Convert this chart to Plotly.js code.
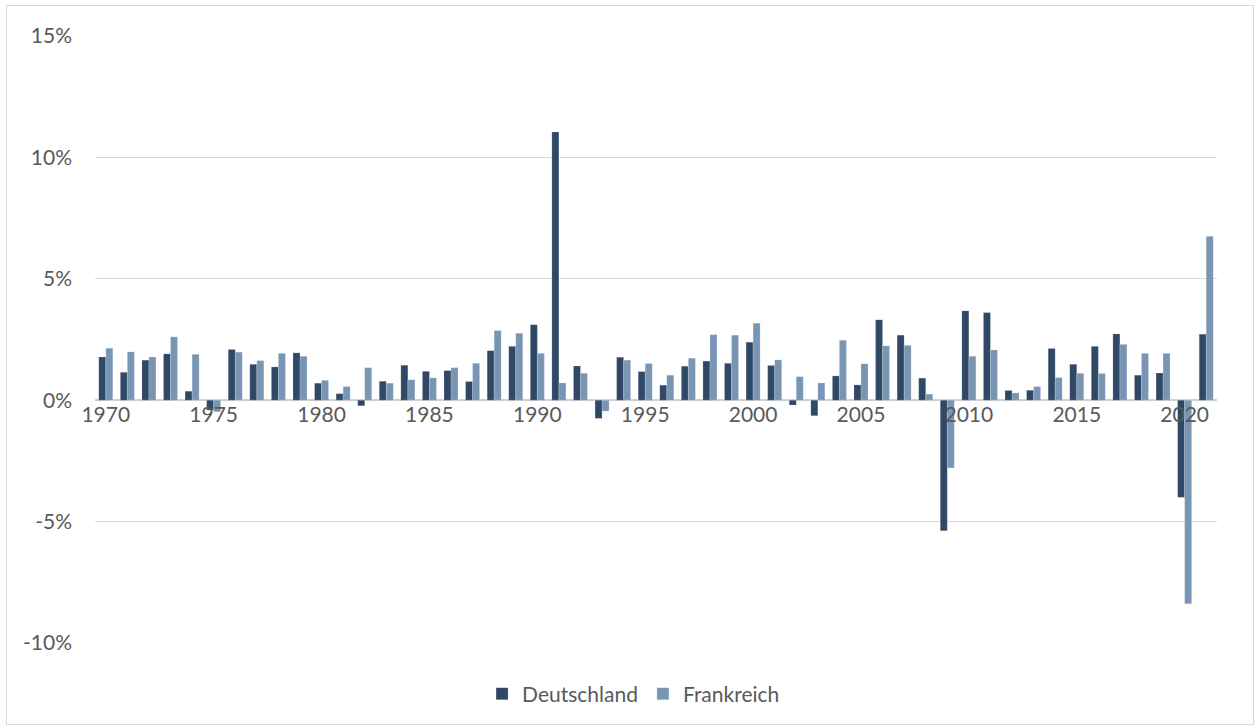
<!DOCTYPE html>
<html>
<head>
<meta charset="utf-8">
<script src="https://cdn.plot.ly/plotly-3.0.1.min.js"></script>
<style>
  html, body { margin: 0; padding: 0; background: #fff; }
  #wrap { position: relative; width: 1258px; height: 727px; }
  #chart { width: 1258px; height: 727px; }
  #frame { position: absolute; left: 6px; top: 5px; width: 1246px; height: 718px;
           border: 1px solid #d9d9d9; pointer-events: none; }
</style>
</head>
<body>
<div id="wrap">
  <div id="chart"></div>
  <div id="frame"></div>
</div>
<script>
const years = [];
for (let y = 1970; y <= 2021; y++) years.push(y);

const deutschland = [
  1.78, 1.15, 1.65, 1.91, 0.37, -0.41, 2.09, 1.48, 1.37, 1.95,
  0.70, 0.27, -0.23, 0.78, 1.44, 1.19, 1.22, 0.77, 2.04, 2.22,
  3.11, 11.05, 1.41, -0.75, 1.77, 1.18, 0.62, 1.40, 1.61, 1.52,
  2.39, 1.43, -0.20, -0.64, 1.00, 0.63, 3.31, 2.68, 0.91, -5.38,
  3.68, 3.61, 0.40, 0.41, 2.13, 1.48, 2.22, 2.73, 1.03, 1.12,
  -4.00, 2.72
];
const frankreich = [
  2.14, 1.99, 1.78, 2.61, 1.89, -0.48, 1.98, 1.63, 1.93, 1.81,
  0.82, 0.56, 1.34, 0.70, 0.84, 0.92, 1.34, 1.52, 2.87, 2.76,
  1.93, 0.71, 1.11, -0.45, 1.65, 1.51, 1.03, 1.73, 2.70, 2.68,
  3.17, 1.66, 0.97, 0.71, 2.47, 1.50, 2.24, 2.26, 0.25, -2.79,
  1.81, 2.07, 0.30, 0.56, 0.93, 1.11, 1.10, 2.30, 1.93, 1.93,
  -8.38, 6.75
];

const labelYears = [1970, 1975, 1980, 1985, 1990, 1995, 2000, 2005, 2010, 2015, 2020];
const tickBoundaries = labelYears.map(y => y - 0.5).concat([2021.5]);
const yTicks = [-10, -5, 0, 5, 10, 15];
const yTickText = yTicks.map(v => v + '%');

const fontFam = 'Lato, "Open Sans", sans-serif';
const txtColor = '#595959';
const fs = 21;

const traces = [
  { type: 'bar', name: 'Deutschland', x: years, y: deutschland,
    marker: { color: '#2E4865', line: { color: 'rgba(255,255,255,0.35)', width: 0.5 } } },
  { type: 'bar', name: 'Frankreich', x: years, y: frankreich,
    marker: { color: '#7896B3', line: { color: 'rgba(255,255,255,0.35)', width: 0.5 } } }
];

const layout = {
  width: 1258, height: 727,
  margin: { l: 95, r: 41, t: 36, b: 84, pad: 0 },
  paper_bgcolor: '#ffffff', plot_bgcolor: '#ffffff',
  barmode: 'group', bargap: 0.35, bargroupgap: 0,
  font: { family: fontFam, size: fs, color: txtColor },
  showlegend: true,
  legend: { orientation: 'h', x: 0.48, xanchor: 'center', y: -0.084, yanchor: 'middle',
            font: { family: fontFam, size: fs, color: txtColor }, itemwidth: 30,
            traceorder: 'normal' },
  xaxis: {
    type: 'linear', range: [1969.5, 2021.5],
    anchor: 'free', position: 0.4,
    tickmode: 'array', tickvals: labelYears, ticktext: labelYears.map(String),
    ticks: '', showgrid: false, zeroline: false, showline: false,
    tickfont: { family: fontFam, size: fs, color: txtColor },
    layer: 'above traces'
  },
  xaxis2: {
    type: 'linear', range: [1969.5, 2021.5], overlaying: 'x',
    anchor: 'free', position: 0.4,
    tickmode: 'array', tickvals: tickBoundaries,
    ticks: 'outside', ticklen: 6, tickwidth: 1.5, tickcolor: '#d9d9d9',
    showticklabels: false, showgrid: false, zeroline: false, showline: false
  },
  yaxis: {
    range: [-10, 15], tickmode: 'array', tickvals: yTicks, ticktext: yTickText,
    showgrid: true, gridcolor: '#d9d9d9', gridwidth: 1,
    zeroline: true, zerolinecolor: '#d0d0d0', zerolinewidth: 1.5,
    showline: false, ticks: '', ticklabelstandoff: 22,
    tickfont: { family: fontFam, size: fs, color: txtColor }
  }
};

Plotly.newPlot('chart', traces, layout, { displayModeBar: false, staticPlot: true });
</script>
</body>
</html>
